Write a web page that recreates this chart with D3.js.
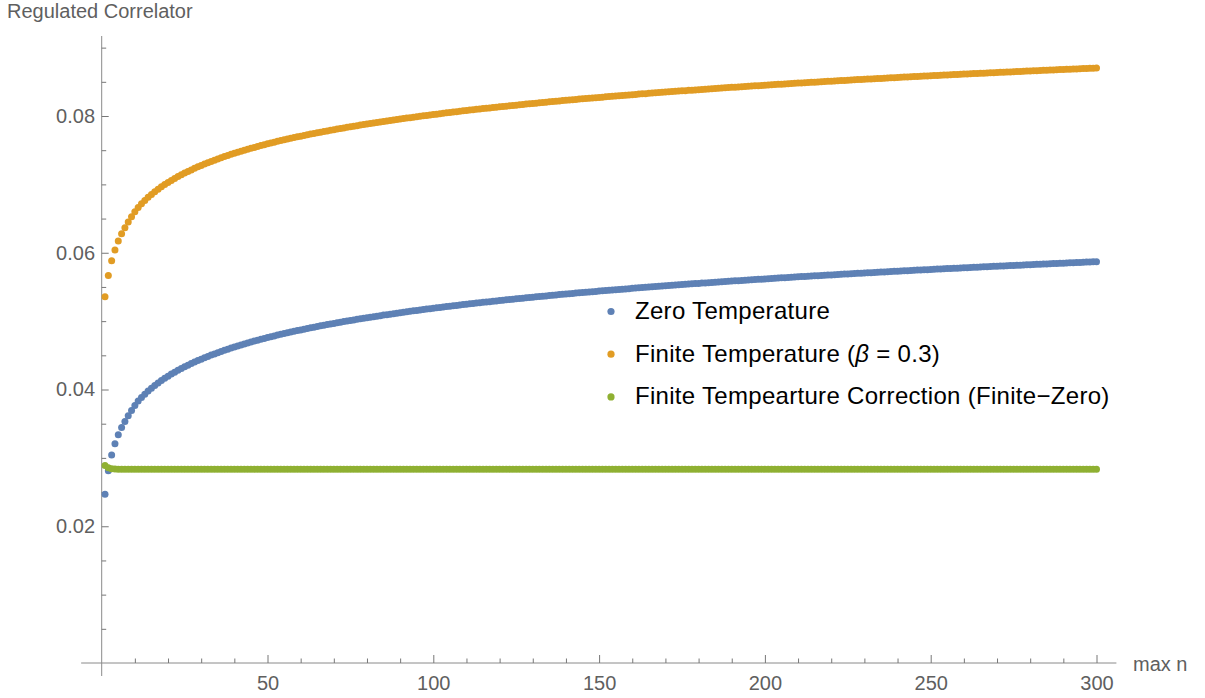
<!DOCTYPE html>
<html>
<head>
<meta charset="utf-8">
<script src="https://cdn.jsdelivr.net/npm/d3@7"></script>
<style>
  html, body { margin: 0; padding: 0; background: #ffffff; }
  svg { display: block; font-family: "Liberation Sans", Arial, sans-serif; }
</style>
</head>
<body>
<svg id="chart" width="1205" height="698"></svg>
<script>
// Regulated correlator versus the cutoff "max n", n = 1 … 300.

const maxN = d3.range(1, 301);

const zeroTemperature = [
  0.02467,0.02812,0.03042,0.03205,0.03337,0.03443,0.03532,0.03617,0.03692,0.03765,0.03830,0.03883,0.03932,0.03977,0.04019,
  0.04059,0.04096,0.04131,0.04164,0.04195,0.04225,0.04254,0.04281,0.04307,0.04332,0.04356,0.04379,0.04402,0.04423,0.04444,
  0.04465,0.04484,0.04503,0.04521,0.04539,0.04557,0.04574,0.04590,0.04606,0.04622,0.04637,0.04652,0.04666,0.04681,0.04694,
  0.04708,0.04721,0.04734,0.04747,0.04760,0.04772,0.04784,0.04796,0.04807,0.04818,0.04830,0.04840,0.04851,0.04862,0.04872,
  0.04882,0.04892,0.04902,0.04912,0.04922,0.04931,0.04940,0.04949,0.04958,0.04967,0.04976,0.04985,0.04993,0.05002,0.05010,
  0.05018,0.05026,0.05034,0.05042,0.05050,0.05058,0.05065,0.05073,0.05080,0.05088,0.05095,0.05102,0.05109,0.05116,0.05123,
  0.05130,0.05137,0.05143,0.05150,0.05156,0.05163,0.05169,0.05176,0.05182,0.05188,0.05194,0.05201,0.05207,0.05213,0.05218,
  0.05224,0.05230,0.05236,0.05242,0.05247,0.05253,0.05258,0.05264,0.05269,0.05275,0.05280,0.05285,0.05291,0.05296,0.05301,
  0.05306,0.05311,0.05316,0.05321,0.05326,0.05331,0.05336,0.05341,0.05346,0.05351,0.05355,0.05360,0.05365,0.05369,0.05374,
  0.05379,0.05383,0.05388,0.05392,0.05396,0.05401,0.05405,0.05410,0.05414,0.05418,0.05423,0.05427,0.05431,0.05435,0.05439,
  0.05443,0.05447,0.05452,0.05456,0.05460,0.05464,0.05468,0.05471,0.05475,0.05479,0.05483,0.05487,0.05491,0.05494,0.05498,
  0.05502,0.05506,0.05509,0.05513,0.05517,0.05520,0.05524,0.05528,0.05531,0.05535,0.05538,0.05542,0.05545,0.05549,0.05552,
  0.05556,0.05559,0.05562,0.05566,0.05569,0.05572,0.05576,0.05579,0.05582,0.05586,0.05589,0.05592,0.05595,0.05599,0.05602,
  0.05605,0.05608,0.05611,0.05614,0.05617,0.05621,0.05624,0.05627,0.05630,0.05633,0.05636,0.05639,0.05642,0.05645,0.05648,
  0.05651,0.05654,0.05656,0.05659,0.05662,0.05665,0.05668,0.05671,0.05674,0.05676,0.05679,0.05682,0.05685,0.05688,0.05690,
  0.05693,0.05696,0.05699,0.05701,0.05704,0.05707,0.05709,0.05712,0.05715,0.05717,0.05720,0.05723,0.05725,0.05728,0.05730,
  0.05733,0.05736,0.05738,0.05741,0.05743,0.05746,0.05748,0.05751,0.05753,0.05756,0.05758,0.05761,0.05763,0.05765,0.05768,
  0.05770,0.05773,0.05775,0.05778,0.05780,0.05782,0.05785,0.05787,0.05789,0.05792,0.05794,0.05796,0.05799,0.05801,0.05803,
  0.05806,0.05808,0.05810,0.05812,0.05815,0.05817,0.05819,0.05821,0.05824,0.05826,0.05828,0.05830,0.05833,0.05835,0.05837,
  0.05839,0.05841,0.05843,0.05846,0.05848,0.05850,0.05852,0.05854,0.05856,0.05858,0.05860,0.05863,0.05865,0.05867,0.05869
];

const finiteTemperature = [
  0.05355,0.05667,0.05882,0.06042,0.06172,0.06277,0.06366,0.06451,0.06525,0.06598,0.06663,0.06716,0.06765,0.06810,0.06852,
  0.06892,0.06929,0.06964,0.06997,0.07028,0.07058,0.07087,0.07114,0.07140,0.07165,0.07189,0.07212,0.07235,0.07256,0.07277,
  0.07298,0.07317,0.07336,0.07354,0.07372,0.07390,0.07407,0.07423,0.07439,0.07455,0.07470,0.07485,0.07499,0.07514,0.07527,
  0.07541,0.07554,0.07567,0.07580,0.07593,0.07605,0.07617,0.07629,0.07640,0.07651,0.07663,0.07673,0.07684,0.07695,0.07705,
  0.07715,0.07725,0.07735,0.07745,0.07755,0.07764,0.07773,0.07782,0.07791,0.07800,0.07809,0.07818,0.07826,0.07835,0.07843,
  0.07851,0.07859,0.07867,0.07875,0.07883,0.07891,0.07898,0.07906,0.07913,0.07921,0.07928,0.07935,0.07942,0.07949,0.07956,
  0.07963,0.07970,0.07976,0.07983,0.07989,0.07996,0.08002,0.08009,0.08015,0.08021,0.08027,0.08034,0.08040,0.08046,0.08051,
  0.08057,0.08063,0.08069,0.08075,0.08080,0.08086,0.08091,0.08097,0.08102,0.08108,0.08113,0.08118,0.08124,0.08129,0.08134,
  0.08139,0.08144,0.08149,0.08154,0.08159,0.08164,0.08169,0.08174,0.08179,0.08184,0.08188,0.08193,0.08198,0.08202,0.08207,
  0.08212,0.08216,0.08221,0.08225,0.08229,0.08234,0.08238,0.08243,0.08247,0.08251,0.08256,0.08260,0.08264,0.08268,0.08272,
  0.08276,0.08280,0.08285,0.08289,0.08293,0.08297,0.08301,0.08304,0.08308,0.08312,0.08316,0.08320,0.08324,0.08327,0.08331,
  0.08335,0.08339,0.08342,0.08346,0.08350,0.08353,0.08357,0.08361,0.08364,0.08368,0.08371,0.08375,0.08378,0.08382,0.08385,
  0.08389,0.08392,0.08395,0.08399,0.08402,0.08405,0.08409,0.08412,0.08415,0.08419,0.08422,0.08425,0.08428,0.08432,0.08435,
  0.08438,0.08441,0.08444,0.08447,0.08450,0.08454,0.08457,0.08460,0.08463,0.08466,0.08469,0.08472,0.08475,0.08478,0.08481,
  0.08484,0.08487,0.08489,0.08492,0.08495,0.08498,0.08501,0.08504,0.08507,0.08509,0.08512,0.08515,0.08518,0.08521,0.08523,
  0.08526,0.08529,0.08532,0.08534,0.08537,0.08540,0.08542,0.08545,0.08548,0.08550,0.08553,0.08556,0.08558,0.08561,0.08563,
  0.08566,0.08569,0.08571,0.08574,0.08576,0.08579,0.08581,0.08584,0.08586,0.08589,0.08591,0.08594,0.08596,0.08598,0.08601,
  0.08603,0.08606,0.08608,0.08611,0.08613,0.08615,0.08618,0.08620,0.08622,0.08625,0.08627,0.08629,0.08632,0.08634,0.08636,
  0.08639,0.08641,0.08643,0.08645,0.08648,0.08650,0.08652,0.08654,0.08657,0.08659,0.08661,0.08663,0.08666,0.08668,0.08670,
  0.08672,0.08674,0.08676,0.08679,0.08681,0.08683,0.08685,0.08687,0.08689,0.08691,0.08693,0.08696,0.08698,0.08700,0.08702
];

const finiteCorrection = [
  0.02888,0.02855,0.02840,0.02837,0.02835,0.02834,0.02834,0.02834,0.02833,0.02833,0.02833,0.02833,0.02833,0.02833,0.02833,
  0.02833,0.02833,0.02833,0.02833,0.02833,0.02833,0.02833,0.02833,0.02833,0.02833,0.02833,0.02833,0.02833,0.02833,0.02833,
  0.02833,0.02833,0.02833,0.02833,0.02833,0.02833,0.02833,0.02833,0.02833,0.02833,0.02833,0.02833,0.02833,0.02833,0.02833,
  0.02833,0.02833,0.02833,0.02833,0.02833,0.02833,0.02833,0.02833,0.02833,0.02833,0.02833,0.02833,0.02833,0.02833,0.02833,
  0.02833,0.02833,0.02833,0.02833,0.02833,0.02833,0.02833,0.02833,0.02833,0.02833,0.02833,0.02833,0.02833,0.02833,0.02833,
  0.02833,0.02833,0.02833,0.02833,0.02833,0.02833,0.02833,0.02833,0.02833,0.02833,0.02833,0.02833,0.02833,0.02833,0.02833,
  0.02833,0.02833,0.02833,0.02833,0.02833,0.02833,0.02833,0.02833,0.02833,0.02833,0.02833,0.02833,0.02833,0.02833,0.02833,
  0.02833,0.02833,0.02833,0.02833,0.02833,0.02833,0.02833,0.02833,0.02833,0.02833,0.02833,0.02833,0.02833,0.02833,0.02833,
  0.02833,0.02833,0.02833,0.02833,0.02833,0.02833,0.02833,0.02833,0.02833,0.02833,0.02833,0.02833,0.02833,0.02833,0.02833,
  0.02833,0.02833,0.02833,0.02833,0.02833,0.02833,0.02833,0.02833,0.02833,0.02833,0.02833,0.02833,0.02833,0.02833,0.02833,
  0.02833,0.02833,0.02833,0.02833,0.02833,0.02833,0.02833,0.02833,0.02833,0.02833,0.02833,0.02833,0.02833,0.02833,0.02833,
  0.02833,0.02833,0.02833,0.02833,0.02833,0.02833,0.02833,0.02833,0.02833,0.02833,0.02833,0.02833,0.02833,0.02833,0.02833,
  0.02833,0.02833,0.02833,0.02833,0.02833,0.02833,0.02833,0.02833,0.02833,0.02833,0.02833,0.02833,0.02833,0.02833,0.02833,
  0.02833,0.02833,0.02833,0.02833,0.02833,0.02833,0.02833,0.02833,0.02833,0.02833,0.02833,0.02833,0.02833,0.02833,0.02833,
  0.02833,0.02833,0.02833,0.02833,0.02833,0.02833,0.02833,0.02833,0.02833,0.02833,0.02833,0.02833,0.02833,0.02833,0.02833,
  0.02833,0.02833,0.02833,0.02833,0.02833,0.02833,0.02833,0.02833,0.02833,0.02833,0.02833,0.02833,0.02833,0.02833,0.02833,
  0.02833,0.02833,0.02833,0.02833,0.02833,0.02833,0.02833,0.02833,0.02833,0.02833,0.02833,0.02833,0.02833,0.02833,0.02833,
  0.02833,0.02833,0.02833,0.02833,0.02833,0.02833,0.02833,0.02833,0.02833,0.02833,0.02833,0.02833,0.02833,0.02833,0.02833,
  0.02833,0.02833,0.02833,0.02833,0.02833,0.02833,0.02833,0.02833,0.02833,0.02833,0.02833,0.02833,0.02833,0.02833,0.02833,
  0.02833,0.02833,0.02833,0.02833,0.02833,0.02833,0.02833,0.02833,0.02833,0.02833,0.02833,0.02833,0.02833,0.02833,0.02833
];

// Axis ticks
const xMajorTicks = [50, 100, 150, 200, 250, 300];
const xMinorTicks = [10, 20, 30, 40, 60, 70, 80, 90, 110, 120, 130, 140, 160, 170, 180, 190,
                     210, 220, 230, 240, 260, 270, 280, 290];
const yMajorTicks = [0.02, 0.04, 0.06, 0.08];
const yMinorTicks = [0.005, 0.01, 0.015, 0.025, 0.03, 0.035, 0.045, 0.05, 0.055,
                     0.065, 0.07, 0.075, 0.085, 0.09];

const yTitle = "Regulated Correlator";
const xTitle = "max n";

// Series, in drawing order
const series = [
  { key: "zero",   values: zeroTemperature,   color: "#5E81B5" },
  { key: "finite", values: finiteTemperature, color: "#E19C24" },
  { key: "corr",   values: finiteCorrection,  color: "#8FB032" }
];

const legendItems = [
  { color: "#5E81B5", parts: [{ t: "Zero Temperature" }] },
  { color: "#E19C24", parts: [{ t: "Finite Temperature (" }, { t: "β", italic: true }, { t: " = 0.3)" }] },
  { color: "#8FB032", parts: [{ t: "Finite Tempearture Correction (Finite\u2212Zero)" }] }
];

// ---- layout ----
const svg = d3.select("#chart");
svg.append("rect").attr("width", 1205).attr("height", 698).attr("fill", "#ffffff");

const x = d3.scaleLinear().domain([0, 300]).range([101.7, 1096.5]);
const y = d3.scaleLinear().domain([0, 0.08]).range([663, 116]);

const axisColor = "#8a8a8a";
const tickColor = "#777777";
const labelColor = "#5f5f5f";

// axis lines (span the padded plot range)
svg.append("line")
  .attr("x1", x(-6.2)).attr("x2", x(306))
  .attr("y1", y(0)).attr("y2", y(0))
  .attr("stroke", axisColor).attr("stroke-width", 1);
svg.append("line")
  .attr("x1", x(0)).attr("x2", x(0))
  .attr("y1", y(-0.0019)).attr("y2", y(0.0917))
  .attr("stroke", axisColor).attr("stroke-width", 1);

function styleAxis(g) {
  g.select(".domain").remove();
  g.selectAll(".tick line").attr("stroke", tickColor).attr("stroke-width", 1);
  g.selectAll(".tick text")
    .attr("fill", labelColor)
    .style("font-family", "'Liberation Sans', Arial, sans-serif")
    .style("font-size", "20px");
}

// x axis: ticks point up into the plot
svg.append("g")
  .attr("transform", `translate(0,${y(0)})`)
  .call(d3.axisBottom(x).tickValues(xMinorTicks).tickFormat("").tickSizeInner(-4.5).tickSizeOuter(0))
  .call(styleAxis);
svg.append("g")
  .attr("transform", `translate(0,${y(0)})`)
  .call(d3.axisBottom(x).tickValues(xMajorTicks).tickFormat(d3.format("d"))
        .tickSizeInner(-8).tickSizeOuter(0).tickPadding(12.8))
  .call(styleAxis);

// y axis: ticks point right into the plot
svg.append("g")
  .attr("transform", `translate(${x(0)},0)`)
  .call(d3.axisLeft(y).tickValues(yMinorTicks).tickFormat("").tickSizeInner(-4.5).tickSizeOuter(0))
  .call(styleAxis);
svg.append("g")
  .attr("transform", `translate(${x(0)},0)`)
  .call(d3.axisLeft(y).tickValues(yMajorTicks).tickFormat(d3.format(".2f"))
        .tickSizeInner(-7).tickSizeOuter(0).tickPadding(6.7))
  .call(styleAxis);

// axis titles
svg.append("text")
  .attr("x", 7).attr("y", 18)
  .attr("fill", labelColor)
  .style("font-size", "20px")
  .text(yTitle);
svg.append("text")
  .attr("x", 1133).attr("y", 671)
  .attr("fill", labelColor)
  .style("font-size", "20px")
  .text(xTitle);

// points
series.forEach(s => {
  svg.append("g")
    .attr("fill", s.color)
    .selectAll("circle")
    .data(s.values)
    .join("circle")
    .attr("cx", (d, i) => x(maxN[i]))
    .attr("cy", d => y(d))
    .attr("r", 3.5);
});

// legend
const legend = svg.append("g").attr("transform", "translate(611,311.5)");
legendItems.forEach((item, i) => {
  const row = legend.append("g").attr("transform", `translate(0,${i * 42.7})`);
  row.append("circle").attr("r", 3.6).attr("fill", item.color);
  const txt = row.append("text")
    .attr("x", 24).attr("y", 7.5)
    .attr("fill", "#000000")
    .style("font-size", "24px")
    .style("letter-spacing", "0.3px");
  item.parts.forEach(p => {
    txt.append("tspan")
      .style("font-style", p.italic ? "italic" : "normal")
      .text(p.t);
  });
});
</script>
</body>
</html>
